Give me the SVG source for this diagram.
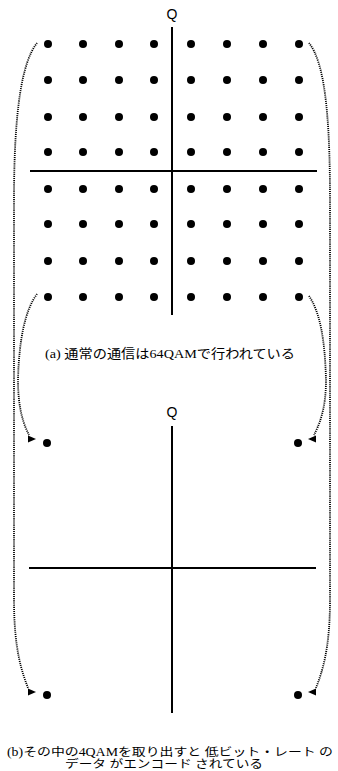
<svg xmlns="http://www.w3.org/2000/svg" width="338" height="771" viewBox="0 0 338 771">
<style>
.dot{fill:#000}
.axis{stroke:#000;stroke-width:2;fill:none}
.conn{stroke:#000;stroke-width:1.8;fill:none;stroke-dasharray:1.1 1}
.ah{fill:#000}
.q{font-family:"Liberation Sans",Arial,sans-serif;font-size:14px;fill:#000;text-anchor:middle}
.cap{font-family:"Liberation Serif","Noto Sans CJK JP",serif;font-size:13px;fill:#000}
.capb{font-family:"Liberation Serif","Noto Sans CJK JP",serif;font-size:11.5px;fill:#000}
</style>
<defs>
<circle id="d" r="4" class="dot"/>
<g id="row">
<use href="#d" x="48"/><use href="#d" x="83"/><use href="#d" x="119"/><use href="#d" x="154"/>
<use href="#d" x="191"/><use href="#d" x="227"/><use href="#d" x="263"/><use href="#d" x="299"/>
</g>
</defs>
<rect width="338" height="771" fill="#fff"/>
<g id="qam64">
<text class="q" x="172" y="18.5">Q</text>
<line class="axis" x1="172" y1="27" x2="172" y2="315"/>
<line class="axis" x1="30" y1="171" x2="317" y2="171"/>
<use href="#row" y="44"/>
<use href="#row" y="80"/>
<use href="#row" y="117"/>
<use href="#row" y="152"/>
<use href="#row" y="189"/>
<use href="#row" y="224"/>
<use href="#row" y="261"/>
<use href="#row" y="297"/>
</g>
<g id="caption-a">
<text class="cap" x="45" y="357.5" textLength="250" lengthAdjust="spacingAndGlyphs">(a) 通常の通信は64QAMで行われている</text>
</g>
<g id="qam4">
<text class="q" x="172" y="417">Q</text>
<line class="axis" x1="172" y1="426" x2="172" y2="713"/>
<line class="axis" x1="29" y1="568" x2="316" y2="568"/>
<use href="#d" x="47" y="443"/>
<use href="#d" x="298" y="443"/>
<use href="#d" x="47" y="695"/>
<use href="#d" x="298" y="695"/>
</g>
<g id="caption-b">
<text class="capb" x="7" y="756" textLength="326" lengthAdjust="spacingAndGlyphs">(b)その中の4QAMを取り出すと 低ビット・レート の</text>
<text class="capb" x="65" y="768" textLength="198" lengthAdjust="spacingAndGlyphs">データ がエンコード されている</text>
</g>
<g id="connectors">
<path class="conn" d="M37,43 C22,62 14,110 14,200 L14,600 C14,650 22,672 28,688"/>
<path class="conn" d="M37,294 C25,310 19,340 18,380 C18,410 24,425 29,435"/>
<path class="conn" d="M309,43 C324,62 330,110 330,200 L330,600 C330,650 322,672 316,688"/>
<path class="conn" d="M309,296 C320,312 325,340 326,380 C326,410 319,425 314,435"/>
<polygon class="ah" points="36,439 28,435.5 28,442.5"/>
<polygon class="ah" points="308,439 316,435.5 316,442.5"/>
<polygon class="ah" points="36,692 28,688.5 28,695.5"/>
<polygon class="ah" points="308,692 316,688.5 316,695.5"/>
</g>
</svg>
